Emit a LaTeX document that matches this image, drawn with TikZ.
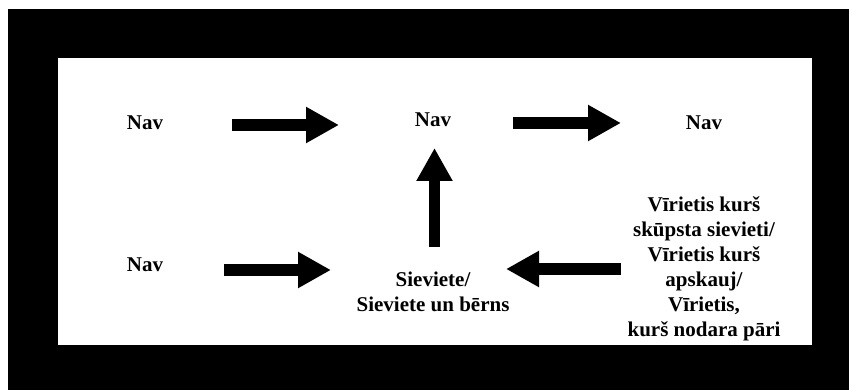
\documentclass[tikz,border=0pt]{standalone}
\usepackage{fontspec}
\setmainfont{Liberation Serif}
\usetikzlibrary{arrows.meta}
\begin{document}
\begin{tikzpicture}[x=1pt,y=-1pt,
  lbl/.style={inner sep=0pt, font=\fontsize{21}{25}\selectfont\bfseries, align=center, text=black},
  blockarrow/.style={draw=black, line width=11.5pt, -{Triangle[length=33pt,width=34pt]}}]
\useasboundingbox (0,0) rectangle (849,390);
\fill[white] (0,0) rectangle (849,390);
\fill[black] (8,9) rectangle (849,390);
\fill[white] (58,58) rectangle (812,345);
% labels
\node[lbl, anchor=base] (n1) at (145,130) {Nav};
\node[lbl, anchor=base] (n2) at (433,127) {Nav};
\node[lbl, anchor=base] (n3) at (704,130) {Nav};
\node[lbl, anchor=base] (n4) at (145,272) {Nav};
\node[lbl, anchor=center] (sv) at (433,292) {Sieviete/\\Sieviete un bērns};
\node[lbl, anchor=center] (vr) at (704,269) {Vīrietis kurš\\skūpsta sievieti/\\Vīrietis kurš\\apskauj/\\Vīrietis,\\kurš nodara pāri};
% arrow end points
\coordinate (a1s) at (232,125); \coordinate (a1e) at (339,125);
\coordinate (a2s) at (513,123); \coordinate (a2e) at (621,123);
\coordinate (a3s) at (434.5,247); \coordinate (a3e) at (434.5,148);
\coordinate (a4s) at (224,270); \coordinate (a4e) at (331,270);
\coordinate (a5s) at (621,269); \coordinate (a5e) at (506,269);
\draw[blockarrow] (a1s) -- (a1e);
\draw[blockarrow] (a2s) -- (a2e);
\draw[blockarrow] (a3s) -- (a3e);
\draw[blockarrow] (a4s) -- (a4e);
\draw[blockarrow] (a5s) -- (a5e);
\end{tikzpicture}
\end{document}
